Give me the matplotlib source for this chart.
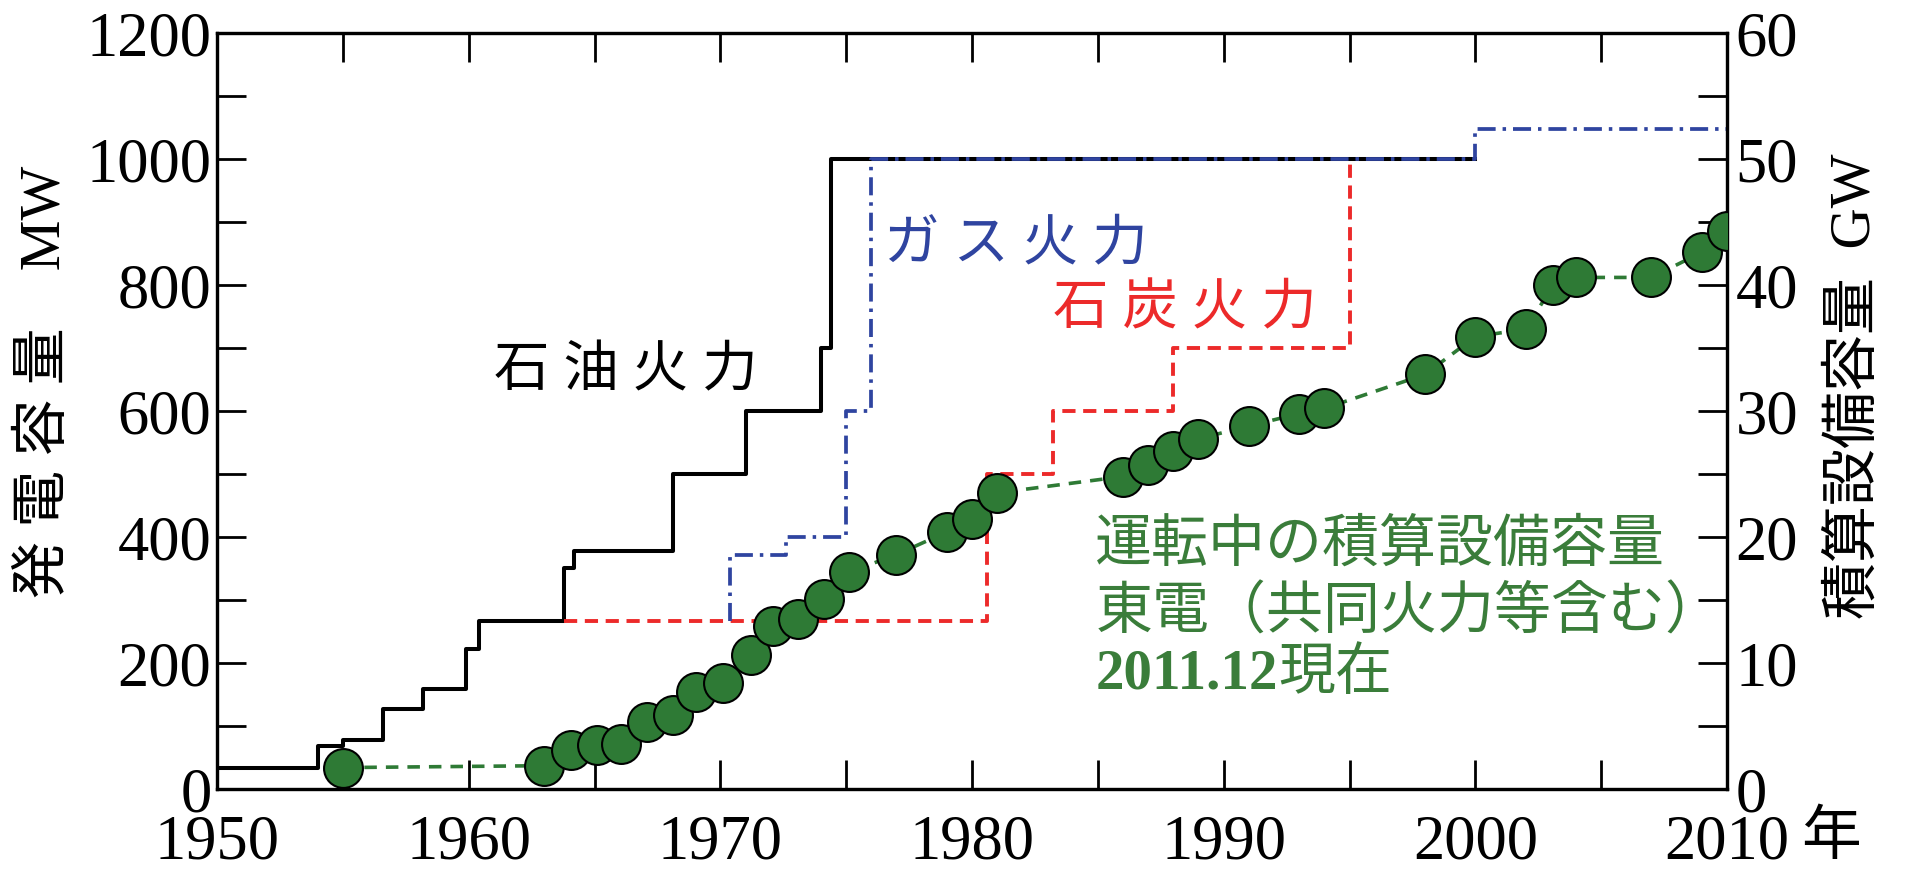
import matplotlib
matplotlib.use('Agg')
import matplotlib.pyplot as plt
import matplotlib.transforms as mtransforms
from matplotlib.ticker import MultipleLocator

plt.rcParams['font.family'] = ['Liberation Serif', 'Noto Sans CJK JP']
plt.rcParams['lines.scale_dashes'] = False

# 石油火力 (MW), step data
oil_year = [1950, 1954.0, 1955.0, 1956.6, 1958.2, 1959.9, 1960.4, 1963.8,
            1964.2, 1968.1, 1971.0, 1974.0, 1974.4, 2000.0]
oil_mw = [33, 68, 77, 127, 159, 222, 267, 351, 378, 500, 600, 700, 1000, 1000]

# ガス火力 (MW)
gas_year = [1970.4, 1970.4, 1972.6, 1975.0, 1976.0, 2000.0, 2010.0]
gas_mw = [267, 372, 400, 600, 1000, 1048, 1048]

# 石炭火力 (MW)
coal_year = [1963.8, 1980.6, 1983.2, 1988.0, 1995.0]
coal_mw = [267, 500, 600, 700, 1000]

# 運転中の積算設備容量 (GW)
total_year = [1955.0, 1963.0, 1964.05, 1965.1, 1966.05, 1967.1, 1968.1, 1969.05,
              1970.1, 1971.2, 1972.1, 1973.1, 1974.1, 1975.1, 1977.0, 1979.0,
              1980.0, 1981.0, 1986.0, 1987.0, 1988.0, 1989.0, 1991.0, 1993.0,
              1994.0, 1998.0, 2000.0, 2002.0, 2003.1, 2004.0, 2007.0, 2009.0,
              2010.0]
total_gw = [1.7, 1.85, 3.1, 3.5, 3.6, 5.3, 5.9, 7.7, 8.4, 10.6, 12.9, 13.5, 15.1,
            17.2, 18.6, 20.4, 21.4, 23.5, 24.8, 25.7, 26.8, 27.8, 28.8, 29.8,
            30.2, 32.9, 35.9, 36.5, 40.0, 40.6, 40.6, 42.6, 44.3]

xticks = [1950, 1960, 1970, 1980, 1990, 2000, 2010]
xtick_labels = ['1950', '1960', '1970', '1980', '1990', '2000', '2010']

BLUE = '#2f44a0'
RED = '#ec2a2a'
GREEN = '#2e7a35'
GREEN_TXT = '#3a7d3a'

fig = plt.figure(figsize=(19.06, 8.72), dpi=100)
ax = fig.add_axes([217 / 1906, 1 - 789 / 872, 1510 / 1906, 756 / 872])
ax2 = ax.twinx()

ax.step(oil_year, oil_mw, where='post', color='black', lw=2.9, zorder=3)
ax.step(coal_year, coal_mw, where='post', color=RED, lw=2.8,
        dashes=(9.5, 5.5), zorder=4)
ax.step(gas_year, gas_mw, where='post', color=BLUE, lw=2.7,
        dashes=(13, 5, 2.5, 5), zorder=5)

ax2.plot(total_year, total_gw, color=GREEN, lw=2.6, dashes=(9, 6.5),
         marker='o', markersize=28, markerfacecolor=GREEN,
         markeredgecolor='black', markeredgewidth=1.5, zorder=5)

ax.set_xlim(1950, 2010)
ax.set_ylim(0, 1200)
ax2.set_ylim(0, 60)

ax.set_xticks(xticks)
ax.set_xticklabels(xtick_labels)
ax.xaxis.set_minor_locator(MultipleLocator(5))
ax.yaxis.set_major_locator(MultipleLocator(200))
ax.yaxis.set_minor_locator(MultipleLocator(100))
ax2.yaxis.set_major_locator(MultipleLocator(10))
ax2.yaxis.set_minor_locator(MultipleLocator(5))

ax.tick_params(which='both', direction='in', length=21, width=2.0,
               top=True, right=False, labelsize=45)
ax.tick_params(axis='x', pad=18)
ax.tick_params(axis='y', pad=4)
ax2.tick_params(which='both', direction='in', length=21, width=2.0,
                labelsize=45, pad=6)
for a in (ax, ax2):
    for s in a.spines.values():
        s.set_linewidth(2.3)

# 年 after the last tick label
trans = mtransforms.blended_transform_factory(ax.transData, ax.transAxes)
ax.text(2012.95, -0.066, '年', transform=trans, fontsize=43,
        ha='left', va='center', clip_on=False)

ax.text(1961.0, 662, '石 油 火 力', fontsize=40, color='black',
        ha='left', va='center', zorder=6)
ax.text(1976.5, 863, 'ガ ス 火 力', fontsize=40, color=BLUE,
        ha='left', va='center', zorder=6)
ax.text(1983.2, 760, '石 炭 火 力', fontsize=40, color=RED,
        ha='left', va='center', zorder=6)

ax.text(1984.9, 386, '運転中の積算設備容量', fontsize=41, color=GREEN_TXT,
        ha='left', va='center', zorder=6)
ax.text(1984.9, 279, '東電（共同火力等含む）', fontsize=41, color=GREEN_TXT,
        ha='left', va='center', zorder=6)
t3 = ax.text(1984.9, 181, '2011.12', fontsize=41, color=GREEN_TXT,
             fontweight='bold', ha='left', va='center', zorder=6)
ax.annotate('現在', xy=(1, 0.5), xycoords=t3, fontsize=41, color=GREEN_TXT,
            ha='left', va='center', zorder=6)

fig.text(45 / 1906, 1 - 382 / 872, '発 電 容 量    MW', fontsize=41,
         rotation=90, ha='center', va='center')
fig.text(1855 / 1906, 1 - 386 / 872, '積算設備容量  GW', fontsize=41,
         rotation=90, ha='center', va='center')

fig.savefig('out.png', dpi=100)
